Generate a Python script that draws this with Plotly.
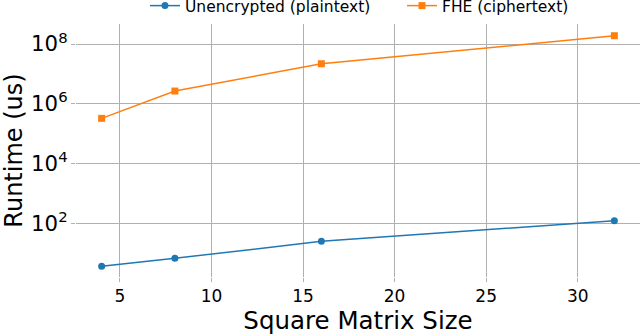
import plotly.graph_objects as go

# matrix sizes and measured runtimes (microseconds)
sizes = [4, 8, 16, 32]
plain_us = [3.8, 7.0, 25.7, 126]
fhe_us = [3.3e5, 2.7e6, 2.2e7, 1.9e8]

BLUE = '#1f77b4'
ORANGE = '#ff7f0e'
FONT = 'DejaVu Sans'

fig = go.Figure()
fig.add_trace(go.Scatter(x=sizes, y=plain_us, mode='lines+markers',
                         name='Unencrypted (plaintext)',
                         line=dict(color=BLUE, width=1.5),
                         marker=dict(symbol='circle', size=7, color=BLUE)))
fig.add_trace(go.Scatter(x=sizes, y=fhe_us, mode='lines+markers',
                         name='FHE (ciphertext)',
                         line=dict(color=ORANGE, width=1.5),
                         marker=dict(symbol='square', size=7, color=ORANGE)))

fig.update_layout(
    width=640, height=335,
    margin=dict(l=76, r=0, t=24, b=58, autoexpand=False),
    paper_bgcolor='white', plot_bgcolor='white',
    font=dict(family=FONT, color='black'),
    showlegend=True,
    legend=dict(orientation='h', x=0.578, xanchor='center',
                y=1.071, yanchor='middle',
                font=dict(size=15.5, family=FONT),
                bgcolor='rgba(0,0,0,0)', itemwidth=30, entrywidth=212),
)

fig.update_xaxes(
    range=[2.6, 33.4], tickvals=[5, 10, 15, 20, 25, 30],
    showgrid=True, gridcolor='#b0b0b0', gridwidth=1,
    showline=False, zeroline=False, automargin=False,
    ticks='outside', ticklen=4, tickcolor='#b0b0b0',
    tickfont=dict(size=17, family=FONT),
    title=dict(text='Square Matrix Size', font=dict(size=24.5, family=FONT), standoff=4),
)
fig.update_yaxes(
    type='log', range=[0.22, 8.67], dtick=2, tick0=0,
    exponentformat='power', automargin=False,
    showgrid=True, gridcolor='#b0b0b0', gridwidth=1,
    showline=False, zeroline=False,
    ticks='outside', ticklen=4, tickcolor='#b0b0b0',
    tickfont=dict(size=17, family=FONT),
    title=dict(text='Runtime (us)', font=dict(size=24, family=FONT), standoff=6),
)

# drop the default page margin so the figure sits flush at the top-left
fig.write_html('out.html', config={'displayModeBar': False},
               post_script="document.body.style.margin = '0';")
